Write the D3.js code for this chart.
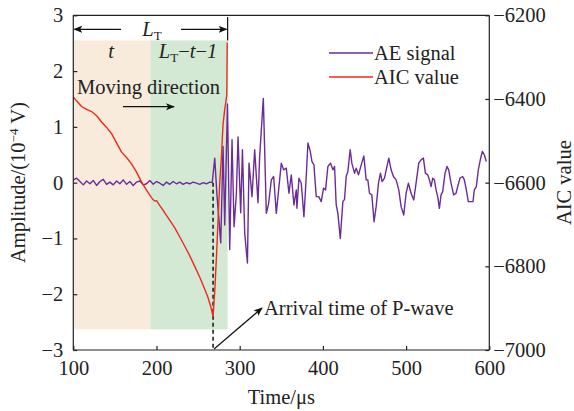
<!DOCTYPE html>
<html><head><meta charset="utf-8">
<script src="https://cdn.jsdelivr.net/npm/d3@7"></script>
<style>body{margin:0;background:#fff}svg{display:block}text{font-family:"Liberation Serif","Times New Roman",serif;fill:#222}</style>
</head><body><svg id="c" width="574" height="411"></svg>
<script>
const xTicks = [100,200,300,400,500,600];
const yLeftTicks = [-3,-2,-1,0,1,2,3];
const yRightTicks = [-7000,-6800,-6600,-6400,-6200];
const legendLabels = ["AE signal","AIC value"];
const seriesColors = ["#6a2c96","#ee2a1c"];

const aeTime = [100,104,108,112,116,120,124,128,132,136,140,144,148,152,156,160,164,168,172,176,180,184,188,192,196,200,204,208,212,216,220,224,228,232,236,240,244,248,252,256,260,264,
267,270,272.8,274.8,277.2,280,282,285.3,288,290.8,293.2,296,298,301.2,303.3,306,309.3,311.2,314.8,318,322,324,328.4,332,334.8,338,340.8,344,346.8,350,352.8,356,359.2,362,365.2,368,368.8,371.2,374,377.2,380,382,384.8,386.8,389.2,392,395,398,400.8,403.2,406,409.2,412,414,416,418,420.9,424,426,428,430,432.8,434.8,438,440,442.8,445,449.2,452,454,456,458.8,461.5,464,466.8,469.2,471.2,474,476.8,479.2,482,484.8,488,491.2,494,497.2,500,502.8,506,509.2,512,515.2,518,520.8,523.2,526,528,530,532,534,536,538,540,542,544,546.8,549.2,551.2,554,557.2,560,562,564.8,568,570,572,574.8,578,580.4,582,584.4,586.8,589.2,591.6,594,596.4];
const aeAmp = [0.05,0.08,0.02,-0.04,0.03,-0.02,0.04,-0.05,0.02,0.06,-0.03,0.01,-0.04,0.03,-0.02,0.05,-0.03,0.02,-0.05,0.01,0.03,-0.04,-0.02,0.04,-0.03,0.02,-0.01,-0.05,0.01,-0.03,0.02,-0.02,0.01,-0.03,0.0,-0.02,0.01,-0.01,-0.03,0.0,-0.02,0.01,
0.0,0.44,-0.25,-0.61,-1.08,0.65,-0.76,1.41,-1.2,0.77,-0.79,-0.2,0.82,-0.54,0.59,-0.9,-1.44,0.35,-0.25,0.59,-0.36,0.47,1.51,-0.55,-0.37,0.05,0.11,-0.55,-0.13,0.35,0.23,0.26,-0.19,0.14,-0.4,-0.13,-0.46,0.08,-0.01,-0.61,0.11,0.71,0.56,0.38,0.32,-0.25,-0.25,-0.34,-0.1,-0.13,0.29,0.35,0.23,0.29,-0.4,-0.55,-1.0,-0.34,-0.3,0.11,0.2,0.59,0.35,0.17,0.26,0.14,0.26,0.48,0.05,0.05,-0.19,-0.22,-0.7,-0.43,-0.01,0.17,0.02,0.08,0.28,0.44,0.23,0.11,0.05,-0.13,-0.43,-0.58,-0.19,-0.01,-0.19,-0.31,-0.01,0.35,0.41,0.44,0.17,0.14,0.05,-0.07,0.08,0.05,-0.13,-0.25,-0.46,-0.22,-0.16,0.17,0.29,0.23,-0.01,-0.22,-0.19,-0.07,0.08,0.11,0.05,-0.1,-0.34,-0.34,-0.34,-0.13,-0.07,0.23,0.41,0.56,0.5,0.38];

const aicTime = [100,104,110,116,122,128,134,140,146,152,158,164,170,176,182,188,193,196,198,200,204,210,216,222,228,234,240,246,252,258,262,265,268,270,272,274,276,278,279,280,282,283.5,284.5,285];
const aicValue = [-6395,-6405,-6418,-6425,-6430,-6440,-6455,-6468,-6483,-6505,-6527,-6540,-6555,-6575,-6598,-6618,-6633,-6641,-6644,-6643,-6655,-6672,-6690,-6708,-6730,-6752,-6775,-6800,-6826,-6855,-6875,-6895,-6920,-6860,-6780,-6690,-6600,-6540,-6500,-6460,-6425,-6405,-6390,-6265];

const windowT = [100,192.5,285.5];
const windowAmp = [-2.63,2.55];
const arrivalT = 268;

const svg = d3.select("#c");
const L=73.3,R=489.3,T=15.3,B=350;
const x = d3.scaleLinear([100,600],[L,R]);
const yL = d3.scaleLinear([-3,3],[B,T]);
const yR = d3.scaleLinear([-7000,-6200],[B,T]);
const FS = 20.5;

// shaded windows
svg.append("rect").attr("x",x(windowT[0])).attr("width",x(windowT[1])-x(windowT[0]))
  .attr("y",yL(windowAmp[1])).attr("height",yL(windowAmp[0])-yL(windowAmp[1])).attr("fill","#f8ebdb");
svg.append("rect").attr("x",x(windowT[1])).attr("width",x(windowT[2])-x(windowT[1]))
  .attr("y",yL(windowAmp[1])).attr("height",yL(windowAmp[0])-yL(windowAmp[1])).attr("fill","#d3e9d3");

// dashed arrival line
svg.append("line").attr("x1",x(arrivalT)).attr("x2",x(arrivalT)).attr("y1",yL(0)).attr("y2",B)
  .attr("stroke","#111").attr("stroke-width",1.5).attr("stroke-dasharray","4,3");

// lines
const aeData = aeTime.map((t,i)=>[t,aeAmp[i]]);
const aicData = aicTime.map((t,i)=>[t,aicValue[i]]);
svg.append("path").datum(aeData).attr("fill","none").attr("stroke",seriesColors[0]).attr("stroke-width",1.4)
  .attr("stroke-linejoin","round").attr("d",d3.line().x(d=>x(d[0])).y(d=>yL(d[1])));
svg.append("path").datum(aicData).attr("fill","none").attr("stroke",seriesColors[1]).attr("stroke-width",1.4)
  .attr("stroke-linejoin","round").attr("d",d3.line().x(d=>x(d[0])).y(d=>yR(d[1])));

// axes
const gx = svg.append("g").attr("transform",`translate(0,${B})`)
  .call(d3.axisBottom(x).tickValues(xTicks).tickSize(-4).tickPadding(10).tickFormat(d3.format("d")));
const gl = svg.append("g").attr("transform",`translate(${L},0)`)
  .call(d3.axisLeft(yL).tickValues(yLeftTicks).tickSize(-4).tickPadding(10).tickFormat(d3.format("d")));
const gr = svg.append("g").attr("transform",`translate(${R},0)`)
  .call(d3.axisRight(yR).tickValues(yRightTicks).tickSize(-4).tickPadding(4).tickFormat(d3.format("d")));
[gx,gl,gr].forEach(g=>{
  g.selectAll(".domain").attr("stroke","#222").attr("stroke-width",1.2);
  g.selectAll(".tick line").attr("stroke","#222").attr("stroke-width",1.2);
  g.selectAll("text").attr("font-size",FS).attr("font-family","Liberation Serif").attr("fill","#222");
});
gx.select(".domain").attr("d",`M${L},0H${R}`);
gl.select(".domain").attr("d",`M0,${T}V${B}`);
gr.select(".domain").attr("d",`M0,${T}V${B}`);
svg.append("line").attr("x1",L).attr("x2",R).attr("y1",T).attr("y2",T).attr("stroke","#222").attr("stroke-width",1.2);

// axis titles
svg.append("text").attr("x",(L+R)/2).attr("y",404).attr("text-anchor","middle").attr("font-size",FS).text("Time/μs");
const lt = svg.append("text").attr("transform",`translate(24.5,${(T+B)/2}) rotate(-90)`).attr("text-anchor","middle").attr("font-size",FS);
lt.append("tspan").text("Amplitude/(10");
lt.append("tspan").attr("dy",-7).attr("font-size",13).text("−4");
lt.append("tspan").attr("dy",7).text(" V)");
svg.append("text").attr("transform",`translate(571,${(T+B)/2}) rotate(-90)`).attr("text-anchor","middle").attr("font-size",FS).text("AIC value");

// legend
legendLabels.forEach((lab,i)=>{
  const yy = 53 + i*24;
  svg.append("line").attr("x1",329).attr("x2",373).attr("y1",yy).attr("y2",yy).attr("stroke",seriesColors[i]).attr("stroke-width",1.4);
  svg.append("text").attr("x",374).attr("y",yy+7).attr("font-size",FS).text(lab);
});

// arrow marker
const defs = svg.append("defs");
defs.append("marker").attr("id","ah").attr("viewBox","0 0 10 10").attr("refX",9).attr("refY",5)
  .attr("markerWidth",9).attr("markerHeight",9).attr("markerUnits","userSpaceOnUse").attr("orient","auto")
  .append("path").attr("d","M0,1L10,5L0,9L2.5,5Z").attr("fill","#111");

function arrow(x1,y1,x2,y2){
  svg.append("line").attr("x1",x1).attr("y1",y1).attr("x2",x2).attr("y2",y2)
    .attr("stroke","#111").attr("stroke-width",1.2).attr("marker-end","url(#ah)");
}
// L_T dimension
const yDim = 29.3;
arrow(121, yDim, x(100)+1, yDim);
arrow(181, yDim, x(windowT[2])-1, yDim);
svg.append("line").attr("x1",x(windowT[2])).attr("x2",x(windowT[2])).attr("y1",17).attr("y2",yL(windowAmp[1]))
  .attr("stroke","#111").attr("stroke-width",1.2);
const ltx = svg.append("text").attr("x",152).attr("y",36).attr("text-anchor","middle").attr("font-size",FS);
ltx.append("tspan").attr("font-style","italic").text("L");
ltx.append("tspan").attr("dy",4).attr("font-size",13).text("T");

svg.append("text").attr("x",111).attr("y",58).attr("text-anchor","middle").attr("font-size",FS).attr("font-style","italic").text("t");
const t2 = svg.append("text").attr("x",188).attr("y",58).attr("text-anchor","middle").attr("font-size",FS);
t2.append("tspan").attr("font-style","italic").text("L");
t2.append("tspan").attr("dy",4).attr("font-size",13).text("T");
t2.append("tspan").attr("dy",-4).text("−");
t2.append("tspan").attr("font-style","italic").text("t");
t2.append("tspan").text("−");
t2.append("tspan").attr("font-style","italic").text("1");

svg.append("text").attr("x",77).attr("y",94).attr("font-size",FS).text("Moving direction");
arrow(123, 106.7, 174, 106.7);

arrow(x(arrivalT)+1, B-1, 262, 308);
svg.append("text").attr("x",264).attr("y",315).attr("font-size",FS).text("Arrival time of P-wave");
</script></body></html>
